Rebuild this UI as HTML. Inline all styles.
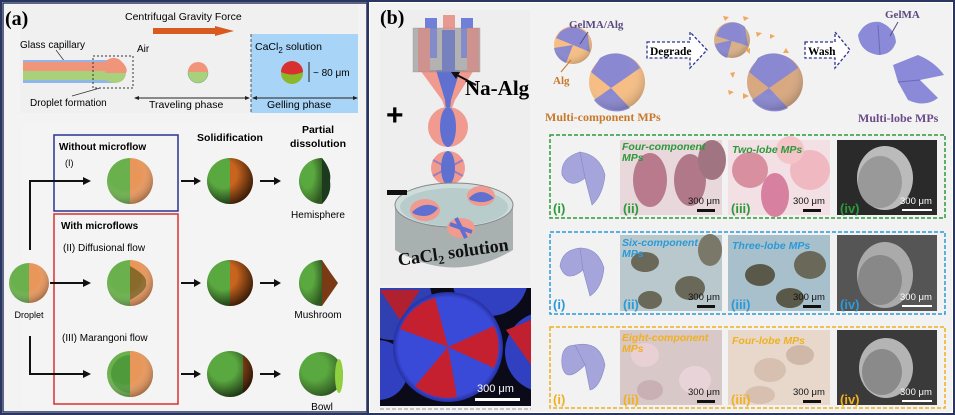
<!DOCTYPE html>
<html><head><meta charset="utf-8"><style>
html,body{margin:0;padding:0;background:#fff}
svg{display:block}
text{font-family:"Liberation Sans",sans-serif}
.s{font-family:"Liberation Serif",serif;font-weight:bold}
</style></head><body>
<svg width="955" height="415" viewBox="0 0 955 415" xmlns="http://www.w3.org/2000/svg">
<defs>
<radialGradient id="shade" cx="0.4" cy="0.35" r="0.7"><stop offset="0.5" stop-color="#fff" stop-opacity="0"/><stop offset="1" stop-color="#000" stop-opacity="0.35"/></radialGradient>
<radialGradient id="shadeD" cx="0.35" cy="0.35" r="0.75"><stop offset="0.4" stop-color="#000" stop-opacity="0"/><stop offset="1" stop-color="#000" stop-opacity="0.8"/></radialGradient>
<radialGradient id="fl" cx="0.5" cy="0.5" r="0.5"><stop offset="0.9" stop-color="#3a4ad8"/><stop offset="1" stop-color="#2530a0"/></radialGradient>
</defs>
<!-- outer frames -->
<rect x="1" y="1" width="953" height="413" fill="#fff" stroke="#2a3560" stroke-width="2"/>
<rect x="3" y="3" width="364" height="409" fill="#f3f3f3" stroke="#2a3560" stroke-width="1.5"/>
<line x1="368" y1="2" x2="368" y2="413" stroke="#2a3560" stroke-width="2"/>
<!-- PANEL A -->
<rect x="20" y="5" width="338" height="108" fill="#f0f0f0"/>
<rect x="251" y="34" width="107" height="79" fill="#a8d4f7"/>
<line x1="251" y1="34" x2="251" y2="113" stroke="#555" stroke-dasharray="3,2"/>
<text x="5" y="25" class="s" font-size="20">(a)</text>
<text x="125" y="20" font-size="10.5">Centrifugal Gravity Force</text>
<polygon points="153,28 215,28 215,26 234,31 215,36 215,34 153,34" fill="#d85a20"/>
<text x="20" y="48" font-size="10">Glass capillary</text>
<line x1="56" y1="50" x2="68" y2="66" stroke="#333" stroke-width="0.7"/>
<rect x="23" y="60" width="92" height="23" fill="#8fb6e8"/>
<rect x="23" y="62" width="95" height="9" fill="#f0957a"/>
<rect x="23" y="71" width="95" height="9" fill="#a9d07a"/>
<path d="M105,62 Q112,55 120,60 Q129,68 126,73 L105,73Z" fill="#f0957a"/>
<path d="M105,73 L126,73 Q125,83 114,83 Q108,81 105,80Z" fill="#a9d07a"/>
<rect x="93" y="56" width="40" height="32" fill="none" stroke="#333" stroke-dasharray="2,2"/>
<line x1="100" y1="88" x2="72" y2="96" stroke="#333" stroke-width="0.7"/>
<text x="30" y="106" font-size="10">Droplet formation</text>
<text x="137" y="52" font-size="10">Air</text>
<circle cx="198" cy="73" r="10" fill="#a9d07a" stroke="#6a8" stroke-width="0.5"/>
<path d="M188,72 A10,10 0 0 1 208,72Z" fill="#f0957a"/>
<text x="255" y="50" font-size="10.5">CaCl<tspan font-size="8" dy="3">2</tspan><tspan dy="-3"> solution</tspan></text>
<circle cx="292" cy="73" r="11" fill="#8ab82a"/>
<path d="M281,72 A11,11 0 0 1 303,72 Q292,77 281,72Z" fill="#d83030"/>
<line x1="309" y1="62" x2="309" y2="82" stroke="#222"/>
<text x="313" y="76" font-size="10">~ 80 μm</text>
<line x1="135" y1="98" x2="249" y2="98" stroke="#222"/>
<polygon points="134,98 139,96 139,100" fill="#222"/><polygon points="250,98 245,96 245,100" fill="#222"/>
<line x1="253" y1="98" x2="357" y2="98" stroke="#222"/>
<polygon points="252,98 257,96 257,100" fill="#222"/><polygon points="358,98 353,96 353,100" fill="#222"/>
<text x="149" y="108" font-size="10.5">Traveling phase</text>
<text x="267" y="108" font-size="10.5">Gelling phase</text>
<!-- bottom a -->
<rect x="22" y="123" width="330" height="287" fill="#f4f4f4"/>
<rect x="54" y="135" width="124" height="76" fill="none" stroke="#2a3590" stroke-width="1.5"/>
<rect x="54" y="214" width="124" height="190" fill="none" stroke="#d83030" stroke-width="1.5"/>
<text x="59" y="150" font-size="10" font-weight="bold">Without microflow</text>
<text x="65" y="166" font-size="9">(I)</text>
<text x="61" y="229" font-size="10" font-weight="bold">With microflows</text>
<text x="63" y="251" font-size="10">(II)  Diffusional flow</text>
<text x="62" y="341" font-size="10">(III)  Marangoni flow</text>
<text x="230" y="141" font-size="10.5" font-weight="bold" text-anchor="middle">Solidification</text>
<text x="318" y="133" font-size="10.5" font-weight="bold" text-anchor="middle">Partial</text>
<text x="318" y="147" font-size="10.5" font-weight="bold" text-anchor="middle">dissolution</text>
<path d="M30,250 L30,181 L86,181" fill="none" stroke="#111" stroke-width="2"/>
<polygon points="91,181 83,177 83,185" fill="#111"/>
<path d="M50,283 L86,283" stroke="#111" stroke-width="2"/>
<polygon points="91,283 83,279 83,287" fill="#111"/>
<path d="M30,336 L30,374 L86,374" fill="none" stroke="#111" stroke-width="2"/>
<polygon points="91,374 83,370 83,378" fill="#111"/>
<g stroke="#111" stroke-width="2">
<line x1="181" y1="181" x2="196" y2="181"/><line x1="260" y1="181" x2="276" y2="181"/>
<line x1="181" y1="283" x2="196" y2="283"/><line x1="260" y1="283" x2="276" y2="283"/>
<line x1="181" y1="374" x2="196" y2="374"/><line x1="260" y1="374" x2="276" y2="374"/>
</g>
<g fill="#111">
<polygon points="201,181 194,177 194,185"/><polygon points="281,181 274,177 274,185"/>
<polygon points="201,283 194,279 194,287"/><polygon points="281,283 274,279 274,287"/>
<polygon points="201,374 194,370 194,378"/><polygon points="281,374 274,370 274,378"/>
</g>
<path d="M29,263 A20,20 0 0 0 29,303Z" fill="#6ab04c"/><path d="M29,263 A20,20 0 0 1 29,303Z" fill="#e8965a"/>
<circle cx="29" cy="283" r="20" fill="url(#shade)"/>
<text x="29" y="318" font-size="9" text-anchor="middle">Droplet</text>
<g>
<path d="M130,158 A23,23 0 0 0 130,204Z" fill="#6ab04c"/><path d="M130,158 A23,23 0 0 1 130,204Z" fill="#e8965a"/><circle cx="130" cy="181" r="23" fill="url(#shade)"/>
<path d="M130,260 A23,23 0 0 0 130,306Z" fill="#6ab04c"/><path d="M130,260 A23,23 0 0 1 130,306Z" fill="#e8965a"/>
<path d="M130,266 Q148,276 146,283 Q148,290 130,300Z" fill="#8a6a2a"/><circle cx="130" cy="283" r="23" fill="url(#shade)"/>
<circle cx="130" cy="374" r="23" fill="#6ab04c"/><path d="M130,351 A23,23 0 0 1 130,397Z" fill="#e8965a"/>
<path d="M130,355 A19,19 0 0 0 130,393Z" fill="#4f9a3b"/><circle cx="130" cy="374" r="23" fill="url(#shade)"/>
</g>
<g>
<path d="M230,158 A23,23 0 0 0 230,204Z" fill="#5aa840"/><path d="M230,158 A23,23 0 0 1 230,204Z" fill="#c8641e"/><circle cx="230" cy="181" r="23" fill="url(#shadeD)"/>
<path d="M230,260 A23,23 0 0 0 230,306Z" fill="#5aa840"/><path d="M230,260 A23,23 0 0 1 230,306Z" fill="#c8641e"/><circle cx="230" cy="283" r="23" fill="url(#shadeD)"/>
<circle cx="230" cy="374" r="23" fill="#5aa840"/><path d="M243,355 A23,23 0 0 1 243,393Z" fill="#a0501a"/><circle cx="230" cy="374" r="23" fill="url(#shadeD)"/>
</g>
<path d="M322,158 A23,23 0 0 0 322,204Z" fill="#5aa840"/><path d="M322,158 Q332,170 330,181 Q332,194 322,204Z" fill="#1d3a1e"/><path d="M322,158 A23,23 0 0 0 322,204Z" fill="url(#shadeD)" opacity="0.6"/>
<text x="318" y="218" font-size="10" text-anchor="middle">Hemisphere</text>
<path d="M322,260 A23,23 0 0 0 322,306Z" fill="#5aa840"/><path d="M322,260 Q332,275 338,283 Q332,292 322,306Z" fill="#7a3a14"/><path d="M322,260 A23,23 0 0 0 322,306Z" fill="url(#shadeD)" opacity="0.6"/>
<text x="318" y="318" font-size="10" text-anchor="middle">Mushroom</text>
<circle cx="321" cy="374" r="22" fill="#5aa840"/><circle cx="321" cy="374" r="22" fill="url(#shadeD)" opacity="0.7"/><ellipse cx="339" cy="376" rx="4" ry="17" fill="#90d040"/>
<text x="322" y="410" font-size="10" text-anchor="middle">Bowl</text>
<!-- PANEL B -->
<rect x="370" y="3" width="582" height="409" fill="#f2f2f2"/>
<rect x="380" y="10" width="150" height="275" fill="#eeeeee"/>
<text x="380" y="24" class="s" font-size="20">(b)</text>
<path d="M420,70 L474,70 L455,100 L452,108 L445,108 L442,100Z" fill="#f09a90"/>
<path d="M436,70 L460,70 L451,100 L450,110 L446,110 L445,100Z" fill="#6070d0"/>
<circle cx="448" cy="127" r="20" fill="#f09a90"/>
<ellipse cx="448" cy="127" rx="8" ry="20" fill="#6070d0"/>
<rect x="413" y="28" width="67" height="44" fill="#888" opacity="0.55"/>
<g>
<rect x="425" y="18" width="12" height="40" fill="#7080d8"/><rect x="443" y="15" width="12" height="40" fill="#e89a92"/><rect x="461" y="18" width="12" height="40" fill="#7080d8"/>
<rect x="418" y="28" width="12" height="44" fill="#e08a84"/><rect x="467" y="28" width="12" height="44" fill="#e08a84"/><rect x="442" y="30" width="13" height="44" fill="#6070c8"/>
</g>
<rect x="413" y="28" width="67" height="44" fill="#aaa" opacity="0.3" stroke="#888"/>
<line x1="476" y1="85" x2="455" y2="74" stroke="#111" stroke-width="2"/><polygon points="451,72 460,72 456,79" fill="#111"/>
<text x="465" y="95" class="s" font-size="21">Na-Alg</text>
<text x="386" y="125" font-size="30" font-weight="bold">+</text>
<circle cx="448" cy="168" r="17" fill="#f09a90"/><ellipse cx="448" cy="168" rx="7" ry="17" fill="#6070d0"/>
<path d="M433,160 L463,176 M433,176 L463,160" stroke="#6070d0" stroke-width="2" opacity="0.6"/>
<path d="M395,205 L395,250 Q454,285 513,250 L513,205Z" fill="#a8b0b0"/>
<ellipse cx="454" cy="205" rx="59" ry="22" fill="#cfdcdc" stroke="#888"/>
<ellipse cx="454" cy="207" rx="54" ry="19" fill="#b8cccc"/>
<ellipse cx="425" cy="210" rx="15" ry="11" fill="#f09a90"/><path d="M412,212 Q425,200 438,208 Q430,220 414,214Z" fill="#6070d0"/>
<ellipse cx="481" cy="196" rx="14" ry="10" fill="#f09a90"/><path d="M469,198 Q481,186 494,198 Q485,205 470,200Z" fill="#6070d0"/>
<ellipse cx="461" cy="228" rx="14" ry="10" fill="#f09a90"/><path d="M450,224 L472,232 M456,218 L466,238" stroke="#6070d0" stroke-width="4"/>
<rect x="387" y="190" width="20" height="5" fill="#111"/>
<text x="454" y="258" class="s" font-size="18" text-anchor="middle" fill="#111" transform="rotate(-8 454 258)">CaCl<tspan font-size="12" dy="4">2</tspan><tspan dy="-4"> solution</tspan></text>
<!-- fluor -->
<rect x="380" y="288" width="151" height="118" fill="#0a0a18"/>
<clipPath id="fc"><rect x="380" y="288" width="151" height="118"/></clipPath>
<g clip-path="url(#fc)">
<circle cx="392" cy="300" r="40" fill="#3040b0"/><path d="M380,290 L420,290 L400,320Z" fill="#b02030"/>
<circle cx="490" cy="278" r="38" fill="#3040c0"/>
<circle cx="545" cy="352" r="40" fill="#3040c0"/><path d="M506,330 L531,320 L531,365Z" fill="#c02030"/>
<circle cx="378" cy="370" r="30" fill="#3040c0"/>
<circle cx="448" cy="347" r="55" fill="url(#fl)"/>
<path d="M448,347 L400,329 A51,51 0 0 1 435,298Z" fill="#c42030"/>
<path d="M448,347 L494,326 A51,51 0 0 1 494,368Z" fill="#c42030"/>
<path d="M448,347 L457,397 A51,51 0 0 1 415,386Z" fill="#c42030"/>
</g>
<text x="477" y="392" font-family="Liberation Serif,serif" font-size="11" fill="#fff">300 μm</text>
<rect x="475" y="398" width="45" height="3" fill="#fff"/>
<line x1="380" y1="409" x2="531" y2="409" stroke="#999" stroke-dasharray="4,2"/>
<!-- top right -->
<circle cx="573" cy="45" r="19" fill="#f6bd84"/><path d="M556,38 L590,52 L588,35 A19,19 0 0 0 560,32Z" fill="#8a88d0"/><path d="M573,45 L566,63 A19,19 0 0 1 554,48Z" fill="#8a88d0"/><circle cx="573" cy="45" r="19" fill="url(#shade)" opacity="0.6"/>
<circle cx="617" cy="82" r="28" fill="#f6bd84"/><path d="M591,72 L611,88 L640,68 A28,28 0 0 0 600,58Z" fill="#8a88d0"/><path d="M611,88 L630,108 A28,28 0 0 1 594,100Z" fill="#8a88d0"/><circle cx="617" cy="82" r="28" fill="url(#shade)" opacity="0.6"/>
<text x="569" y="28" class="s" font-size="11" fill="#5a4a80">GelMA/Alg</text>
<line x1="588" y1="32" x2="580" y2="44" stroke="#5a4a80"/>
<text x="553" y="84" class="s" font-size="11" fill="#c8782a">Alg</text>
<line x1="561" y1="72" x2="571" y2="60" stroke="#c8782a"/>
<text x="545" y="121" class="s" font-size="12" fill="#c8782a">Multi-component  MPs</text>
<path d="M647,42 L690,42 L690,32 L707,50 L690,68 L690,58 L647,58Z" fill="#fff" stroke="#2a3590" stroke-dasharray="3,2" stroke-width="1.3"/>
<text x="650" y="55" class="s" font-size="11.5">Degrade</text>
<path d="M805,42 L835,42 L835,32 L850,50 L835,68 L835,58 L805,58Z" fill="#fff" stroke="#2a3590" stroke-dasharray="3,2" stroke-width="1.3"/>
<text x="808" y="55" class="s" font-size="11.5">Wash</text>
<circle cx="732" cy="40" r="18" fill="#d8b088"/><path d="M716,36 L748,46 L745,27 A18,18 0 0 0 720,28Z" fill="#8a88d0"/><path d="M732,40 L727,58 A18,18 0 0 1 715,44Z" fill="#8a88d0"/><circle cx="732" cy="40" r="18" fill="url(#shade)" opacity="0.6"/>
<circle cx="775" cy="82" r="28" fill="#d8a880"/><path d="M749,72 L769,88 L798,68 A28,28 0 0 0 758,58Z" fill="#8a88d0"/><path d="M769,88 L788,108 A28,28 0 0 1 752,100Z" fill="#8a88d0"/><circle cx="775" cy="82" r="28" fill="url(#shade)" opacity="0.6"/>
<g fill="#f0a860"><polygon points="723,16 729,17 725,21"/><polygon points="743,16 749,18 744,21"/><polygon points="756,32 762,33 757,37"/><polygon points="770,34 775,36 770,39"/><polygon points="745,50 750,48 750,54"/><polygon points="786,48 789,53 783,53"/><polygon points="730,73 735,72 733,78"/><polygon points="728,90 734,92 729,95"/><polygon points="743,93 749,96 743,99"/></g>
<path d="M858,35 Q865,20 880,22 Q895,28 896,42 Q892,55 878,55 Q860,52 858,35Z" fill="#8a8ad8"/>
<path d="M878,25 L880,55" stroke="#6a6ab8"/>
<path d="M893,65 L918,55 Q935,62 944,75 L920,80 L938,98 Q925,108 908,100 L898,82Z" fill="#8a8ad8"/>
<path d="M898,82 L920,80" stroke="#6a6ab8"/>
<text x="885" y="18" class="s" font-size="11" fill="#5a4a80">GelMA</text>
<line x1="898" y1="22" x2="890" y2="36" stroke="#5a4a80"/>
<text x="858" y="122" class="s" font-size="12" fill="#6a4a88">Multi-lobe MPs</text>
<rect x="550" y="135" width="395" height="83" fill="none" stroke="#2a9a3a" stroke-dasharray="4,2" stroke-width="1.5"/>
<rect x="550" y="232" width="395" height="82" fill="none" stroke="#2a9ad8" stroke-dasharray="4,2" stroke-width="1.5"/>
<rect x="550" y="327" width="395" height="81" fill="none" stroke="#f0b020" stroke-dasharray="4,2" stroke-width="1.5"/>
<g fill="#a5a5dc" stroke="#8888c8" stroke-width="0.6">
<path d="M580,152 Q600,155 605,175 Q603,195 592,205 L585,178Z"/><path d="M585,178 Q570,190 562,175 Q560,158 580,152Z"/>
<path d="M580,248 Q598,248 604,268 Q602,288 590,296 L583,270Z"/><path d="M583,270 Q566,284 560,266 Q562,250 580,248Z"/>
<path d="M575,345 Q600,340 605,365 Q600,388 590,390 L585,365Z"/><path d="M585,365 Q565,385 562,365 Q560,345 575,345Z"/>
</g>
<rect x="620" y="140" width="102" height="75" fill="#e8d8dc"/>
<ellipse cx="650" cy="180" rx="17" ry="27" fill="#b87a8c"/><ellipse cx="690" cy="180" rx="16" ry="26" fill="#b07888"/><ellipse cx="712" cy="160" rx="14" ry="20" fill="#a07480"/>
<rect x="728" y="140" width="102" height="75" fill="#f2e0e4"/>
<circle cx="750" cy="170" r="18" fill="#d890a0"/><circle cx="810" cy="170" r="20" fill="#f0b8c0"/><ellipse cx="775" cy="195" rx="14" ry="22" fill="#d880a0"/><circle cx="790" cy="150" r="14" fill="#f4c4c8"/>
<rect x="837" y="140" width="100" height="75" fill="#2a2a2a"/>
<ellipse cx="885" cy="178" rx="28" ry="32" fill="#bbb"/><ellipse cx="880" cy="182" rx="22" ry="26" fill="#999"/>
<rect x="620" y="235" width="102" height="76" fill="#b8c8cc"/>
<ellipse cx="645" cy="262" rx="14" ry="10" fill="#6a6858"/><ellipse cx="690" cy="288" rx="15" ry="12" fill="#6a6858"/><ellipse cx="710" cy="250" rx="12" ry="16" fill="#7a7868"/><ellipse cx="650" cy="300" rx="12" ry="9" fill="#6a6858"/>
<rect x="728" y="235" width="102" height="76" fill="#a8c0cc"/>
<ellipse cx="760" cy="275" rx="15" ry="11" fill="#5a5848"/><ellipse cx="810" cy="265" rx="16" ry="14" fill="#6a6858"/><ellipse cx="790" cy="298" rx="14" ry="10" fill="#5a5848"/>
<rect x="837" y="235" width="100" height="76" fill="#555"/>
<ellipse cx="885" cy="275" rx="28" ry="33" fill="#aaa"/><ellipse cx="880" cy="280" rx="22" ry="25" fill="#888"/>
<rect x="620" y="330" width="102" height="75" fill="#d8c8c8"/>
<ellipse cx="645" cy="355" rx="14" ry="12" fill="#e8d0d4"/><ellipse cx="695" cy="380" rx="16" ry="14" fill="#e8d4d8"/><ellipse cx="650" cy="390" rx="13" ry="10" fill="#c8b0b4"/>
<rect x="728" y="330" width="102" height="75" fill="#e8d8cc"/>
<ellipse cx="770" cy="370" rx="16" ry="12" fill="#d8c0b0"/><ellipse cx="800" cy="355" rx="14" ry="10" fill="#d0b8a8"/><ellipse cx="760" cy="395" rx="15" ry="9" fill="#d8c0b0"/>
<rect x="837" y="330" width="100" height="75" fill="#3a3a3a"/>
<ellipse cx="886" cy="368" rx="27" ry="30" fill="#b4b4b4"/><ellipse cx="882" cy="372" rx="20" ry="23" fill="#8a8a8a"/>
<g font-family="Liberation Serif,serif" font-weight="bold" font-size="13">
<text x="553" y="213" fill="#2a9a3a">(i)</text><text x="623" y="213" fill="#2a9a3a">(ii)</text><text x="731" y="213" fill="#2a9a3a">(iii)</text><text x="840" y="213" fill="#2a9a3a">(iv)</text>
<text x="553" y="309" fill="#2a9ad8">(i)</text><text x="623" y="309" fill="#2a9ad8">(ii)</text><text x="731" y="309" fill="#2a9ad8">(iii)</text><text x="840" y="309" fill="#2a9ad8">(iv)</text>
<text x="553" y="404" fill="#f0b020">(i)</text><text x="623" y="404" fill="#f0b020">(ii)</text><text x="731" y="404" fill="#f0b020">(iii)</text><text x="840" y="404" fill="#f0b020">(iv)</text>
</g>
<g font-family="Liberation Serif,serif" font-weight="bold" font-style="italic" font-size="10.5">
<text x="622" y="150" fill="#2a9a3a">Four-component</text><text x="622" y="161" fill="#2a9a3a">MPs</text>
<text x="732" y="153" fill="#2a9a3a">Two-lobe MPs</text>
<text x="622" y="246" fill="#2a9ad8">Six-component</text><text x="622" y="257" fill="#2a9ad8">MPs</text>
<text x="732" y="249" fill="#2a9ad8">Three-lobe MPs</text>
<text x="622" y="341" fill="#f0b020">Eight-component</text><text x="622" y="352" fill="#f0b020">MPs</text>
<text x="732" y="344" fill="#f0b020">Four-lobe MPs</text>
</g>
<g font-family="Liberation Serif,serif" font-size="9.5" fill="#111">
<text x="688" y="204">300 μm</text><text x="793" y="204">300 μm</text>
<text x="688" y="300">300 μm</text><text x="793" y="300">300 μm</text>
<text x="688" y="395">300 μm</text><text x="793" y="395">300 μm</text>
</g>
<g fill="#111"><rect x="697" y="209" width="18" height="3"/><rect x="803" y="209" width="18" height="3"/><rect x="697" y="305" width="18" height="3"/><rect x="803" y="305" width="18" height="3"/><rect x="697" y="400" width="18" height="3"/><rect x="803" y="400" width="18" height="3"/></g>
<g font-family="Liberation Serif,serif" font-size="9.5" fill="#fff">
<text x="900" y="204">300 μm</text><text x="900" y="300">300 μm</text><text x="900" y="395">300 μm</text>
</g>
<g fill="#fff"><rect x="902" y="209" width="30" height="2"/><rect x="902" y="305" width="30" height="2"/><rect x="902" y="400" width="30" height="2"/></g>
</svg>
</body></html>
